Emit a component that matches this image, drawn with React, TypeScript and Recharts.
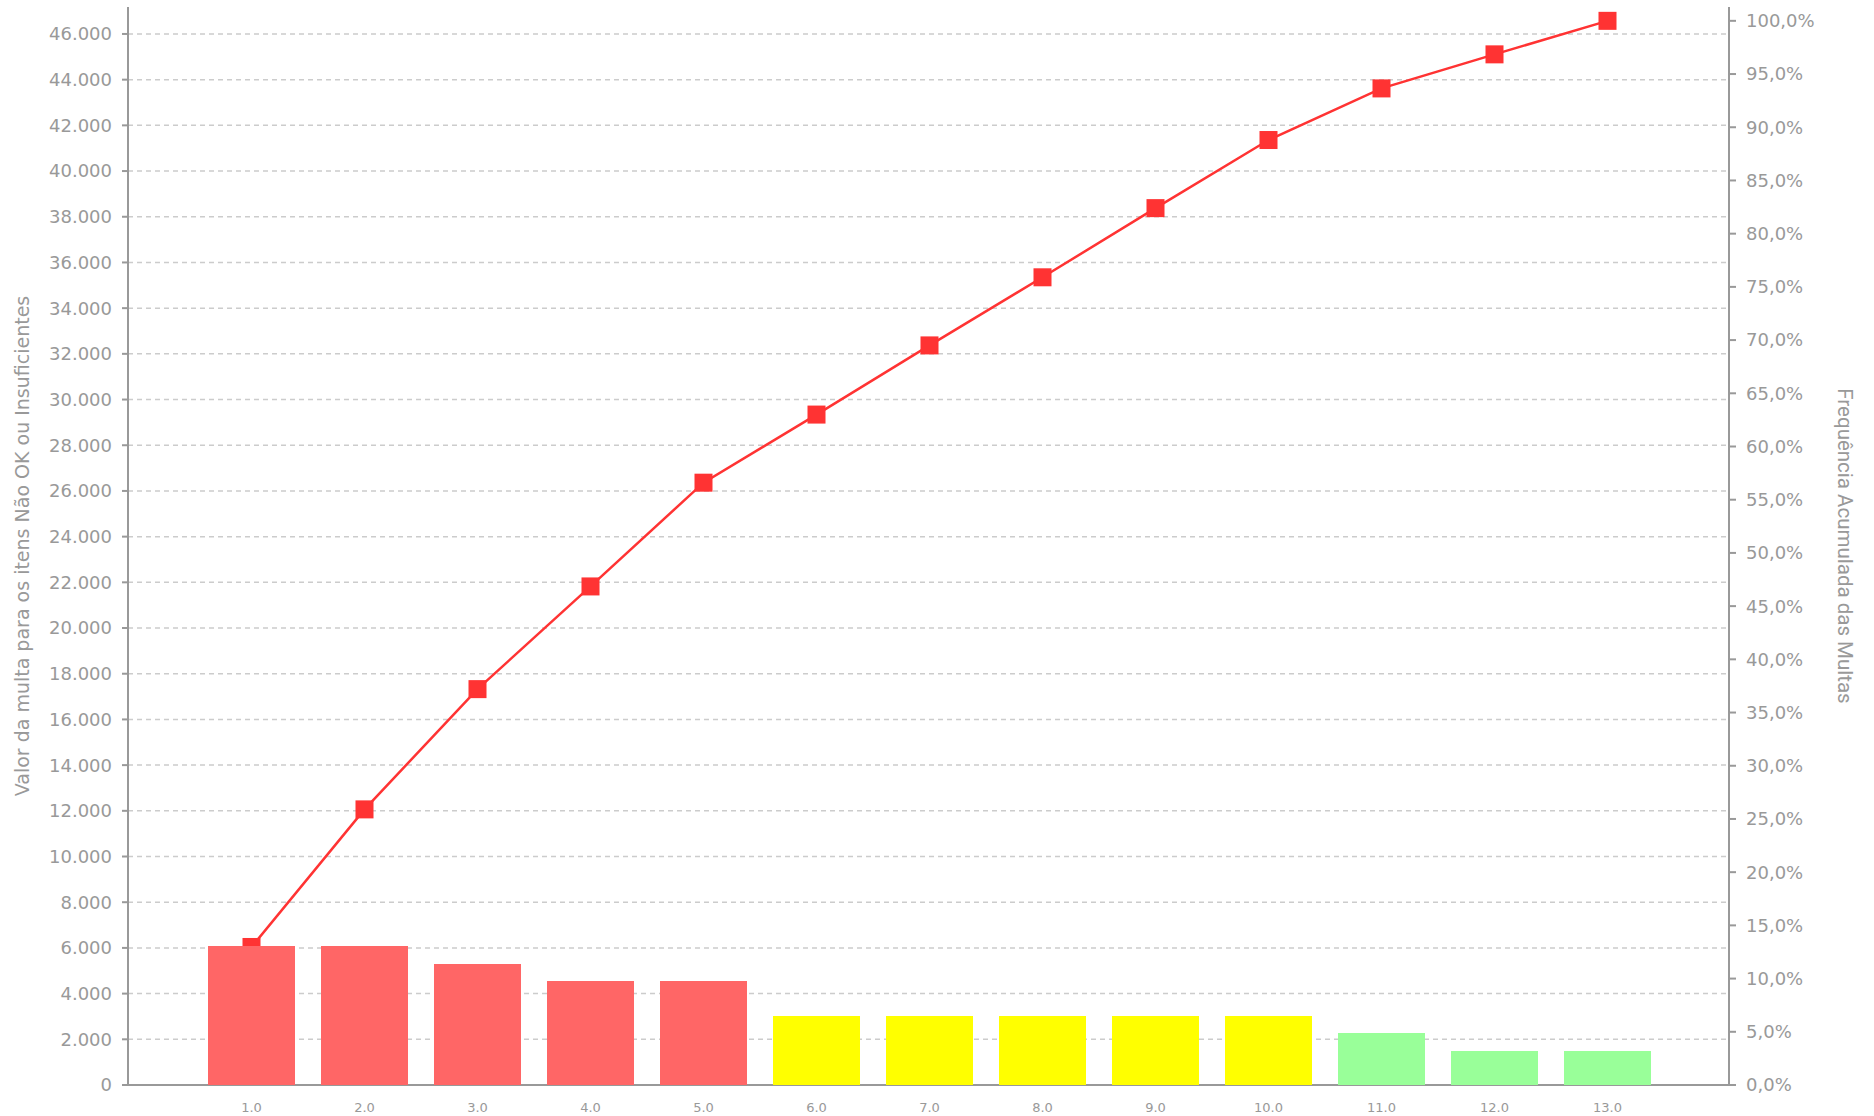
import React from 'react';
import { ComposedChart, Bar, Line, XAxis, YAxis, CartesianGrid, Cell } from 'recharts';

const categorias = ['1.0', '2.0', '3.0', '4.0', '5.0', '6.0', '7.0', '8.0', '9.0', '10.0', '11.0', '12.0', '13.0'];
const valores = [6083, 6083, 5295, 4551, 4551, 3020, 3020, 3020, 3020, 3020, 2276, 1488, 1488];
const acumulado = [12.97, 25.9, 37.2, 46.85, 56.6, 63.0, 69.5, 75.9, 82.4, 88.8, 93.65, 96.85, 100.0];
const classes = ['alta', 'alta', 'alta', 'alta', 'alta', 'media', 'media', 'media', 'media', 'media', 'baixa', 'baixa', 'baixa'];
const ticksValor = [0, 2000, 4000, 6000, 8000, 10000, 12000, 14000, 16000, 18000, 20000, 22000, 24000, 26000, 28000, 30000, 32000, 34000, 36000, 38000, 40000, 42000, 44000, 46000];
const ticksPct = [0, 5, 10, 15, 20, 25, 30, 35, 40, 45, 50, 55, 60, 65, 70, 75, 80, 85, 90, 95, 100];

const corClasse: Record<string, string> = { alta: '#FF6666', media: '#FFFF00', baixa: '#99FF99' };

const data = categorias.map((c, i) => ({ cat: c, valor: valores[i], acum: acumulado[i], classe: classes[i] }));

const GRAY = '#999999';
const FONT = '"DejaVu Sans", Verdana, sans-serif';

const fmtValor = (v: number) => String(v).replace(/\B(?=(\d{3})+(?!\d))/g, '.');
const fmtPct = (v: number) => v.toFixed(1).replace('.', ',') + '%';

const SquareDot = (props: any) => {
  const { cx, cy } = props;
  if (cx == null || cy == null) return null;
  return <rect x={cx - 9} y={cy - 9} width={18} height={18} fill="#FF3333" />;
};

const LeftLabel = (props: any) => {
  const vb = props.viewBox || {};
  const x = 22;
  const y = (vb.y || 0) + (vb.height || 0) / 2;
  return (
    <text x={x} y={y} transform={`rotate(-90, ${x}, ${y})`} textAnchor="middle" dominantBaseline="central"
      fill={GRAY} fontSize={19} fontFamily={FONT}>
      Valor da multa para os itens Não OK ou Insuficientes
    </text>
  );
};

const RightLabel = (props: any) => {
  const vb = props.viewBox || {};
  const x = 1845;
  const y = (vb.y || 0) + (vb.height || 0) / 2;
  return (
    <text x={x} y={y} transform={`rotate(90, ${x}, ${y})`} textAnchor="middle" dominantBaseline="central"
      fill={GRAY} fontSize={20.5} fontFamily="Roboto, sans-serif">
      Frequência Acumulada das Multas
    </text>
  );
};

const gridGenerator = (props: any) => {
  const yAxis = props?.yAxis;
  const scale = yAxis?.scale;
  if (!scale) return [];
  const fn = typeof scale === 'function' ? scale : scale.map ? (v: number) => scale.map(v) : null;
  if (!fn) return [];
  return ticksValor.map((t) => fn(t));
};

export default function App() {
  return (
    <div style={{ position: 'absolute', left: 0, top: 0, width: 1874, height: 1116, background: '#fff' }}>
      <ComposedChart width={1874} height={1116} data={data} margin={{ top: 7, right: 0, bottom: 0, left: 0 }}>
        <CartesianGrid yAxisId="left" vertical={false} stroke="#cccccc" strokeDasharray="5 4" strokeWidth={1.5}
          horizontalCoordinatesGenerator={gridGenerator} />
        <XAxis dataKey="cat" height={31} padding={{ left: 67, right: 65 }} tickLine={false} tickSize={0} tickMargin={18}
          axisLine={{ stroke: GRAY, strokeWidth: 2 }} tick={{ fill: GRAY, fontSize: 13, fontFamily: FONT }} interval={0} />
        <YAxis yAxisId="left" orientation="left" width={128} domain={[0, 47180]} ticks={ticksValor} tickFormatter={fmtValor}
          allowDataOverflow axisLine={{ stroke: GRAY, strokeWidth: 2 }} tickLine={{ stroke: GRAY, strokeWidth: 2 }} tickSize={6} tickMargin={10}
          tick={{ fill: GRAY, fontSize: 18, fontFamily: FONT }} label={<LeftLabel />} />
        <YAxis yAxisId="right" orientation="right" width={145} domain={[0, 101.3]} ticks={ticksPct} tickFormatter={fmtPct}
          allowDataOverflow axisLine={{ stroke: GRAY, strokeWidth: 2 }} tickLine={{ stroke: GRAY, strokeWidth: 2 }} tickSize={7} tickMargin={10}
          tick={{ fill: GRAY, fontSize: 18, fontFamily: FONT }} label={<RightLabel />} />
        <Line yAxisId="right" dataKey="acum" stroke="#FF3333" strokeWidth={2.5} dot={<SquareDot />} activeDot={false}
          isAnimationActive={false} zIndex={300} />
        <Bar yAxisId="left" dataKey="valor" barSize={87} isAnimationActive={false} zIndex={600}>
          {data.map((d, i) => (
            <Cell key={i} fill={corClasse[d.classe]} />
          ))}
        </Bar>
      </ComposedChart>
    </div>
  );
}
